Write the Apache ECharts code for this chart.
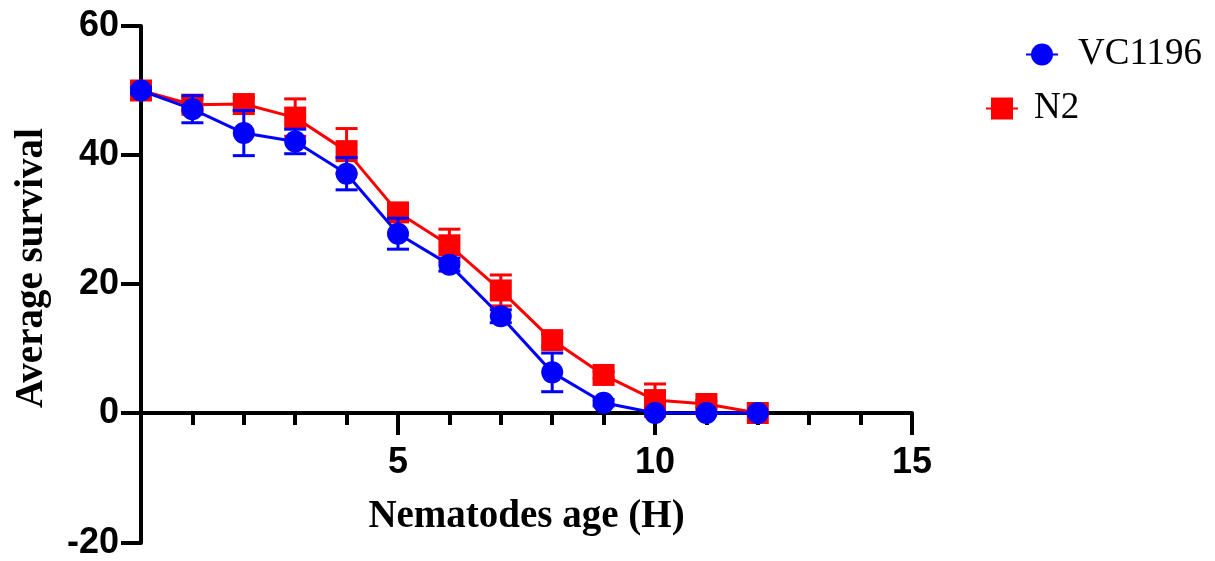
<!DOCTYPE html>
<html>
<head>
<meta charset="utf-8">
<script src="https://cdn.jsdelivr.net/npm/echarts@6/dist/echarts.min.js"></script>
<style>
  html, body { margin: 0; padding: 0; background: #fff; }
  #chart { width: 1215px; height: 561px; }
</style>
</head>
<body>
<div id="chart"></div>
<script>
// ---- data ----
const hours = [0, 1, 2, 3, 4, 5, 6, 7, 8, 9, 10, 11, 12];
const vc1196Mean = [50.0, 47.1, 43.4, 42.1, 37.1, 27.8, 23.0, 15.0, 6.3, 1.6, 0.0, 0.0, 0.0];
const vc1196Err  = [0.5, 2.1, 3.5, 1.9, 2.5, 2.4, 1.0, 1.0, 3.0, 0.5, 0.0, 0.0, 0.0];
const n2Mean     = [50.0, 47.8, 47.9, 45.8, 40.6, 31.1, 26.0, 19.0, 11.3, 5.9, 2.0, 1.4, 0.0];
const n2Err      = [0.5, 1.0, 1.0, 2.9, 3.5, 0.8, 2.5, 2.4, 1.0, 0.5, 2.5, 0.5, 0.0];
const seriesNames = ['VC1196', 'N2'];
const xTitle = 'Nematodes age (H)';
const yTitle = 'Average survival';

const BLUE = '#0000FF';
const RED = '#FF0000';

function errData(mean, err) {
  return hours.map((h, i) => [h, mean[i] - err[i], mean[i] + err[i]]);
}
function errRenderer(color) {
  return function (params, api) {
    const x = api.value(0), lo = api.value(1), hi = api.value(2);
    if (hi - lo <= 0) return null;
    const top = api.coord([x, hi]);
    const bot = api.coord([x, lo]);
    const hw = 11;
    const st = { stroke: color, lineWidth: 3 };
    return {
      type: 'group',
      children: [
        { type: 'line', shape: { x1: top[0], y1: top[1], x2: bot[0], y2: bot[1] }, style: st },
        { type: 'line', shape: { x1: top[0] - hw, y1: top[1], x2: top[0] + hw, y2: top[1] }, style: st },
        { type: 'line', shape: { x1: bot[0] - hw, y1: bot[1], x2: bot[0] + hw, y2: bot[1] }, style: st }
      ]
    };
  };
}

const chart = echarts.init(document.getElementById('chart'), null, { renderer: 'canvas' });
const legendText = { fontFamily: 'Liberation Serif', fontSize: 37, color: '#000' };
const axisLineStyle = { color: '#000', width: 4 };
const tickFont = { fontFamily: 'Liberation Sans', fontWeight: 'bold', fontSize: 36, color: '#000' };

chart.setOption({
  animation: false,
  backgroundColor: '#fff',
  grid: [
    // upper grid: y from 0 to 60 (x axis sits at y = 0)
    { left: 141, right: 303, top: 26, height: 387, containLabel: false, outerBoundsMode: 'none' },
    // lower grid: continuation of the y axis from 0 down to -20
    { left: 141, right: 303, top: 413, bottom: 18, containLabel: false, outerBoundsMode: 'none' }
  ],
  legend: [
    {
      data: [seriesNames[0]], left: 1025, top: 36, orient: 'vertical', padding: 0,
      itemWidth: 32, itemHeight: 27.5, selectedMode: false,
      textStyle: Object.assign({ padding: [0, 0, 0, 15] }, legendText)
    },
    {
      data: [seriesNames[1]], left: 985, top: 90, orient: 'vertical', padding: 0,
      itemWidth: 32, itemHeight: 27.5, selectedMode: false,
      textStyle: Object.assign({ padding: [0, 0, 0, 11] }, legendText)
    }
  ],
  xAxis: [
    {
      gridIndex: 0, type: 'value', min: 0, max: 15, interval: 5, position: 'bottom',
      name: xTitle, nameLocation: 'middle', nameGap: 84,
      nameTextStyle: { fontFamily: 'Liberation Serif', fontWeight: 'bold', fontSize: 39, color: '#000' },
      axisLine: { onZero: false, lineStyle: axisLineStyle },
      axisTick: { show: true, length: 22, lineStyle: axisLineStyle },
      minorTick: { show: true, splitNumber: 5, length: 12, lineStyle: axisLineStyle },
      axisLabel: Object.assign({ margin: 32, formatter: v => (v === 0 ? '' : String(v)) }, tickFont),
      splitLine: { show: false }
    },
    {
      gridIndex: 1, type: 'value', min: 0, max: 15, show: false
    }
  ],
  yAxis: [
    {
      gridIndex: 0, type: 'value', min: 0, max: 60, interval: 20,
      name: yTitle, nameLocation: 'middle', nameGap: 90, nameRotate: 90,
      nameTextStyle: { fontFamily: 'Liberation Serif', fontWeight: 'bold', fontSize: 39, color: '#000', padding: [0, 97, 0, 0] },
      axisLine: { show: true, onZero: false, lineStyle: axisLineStyle },
      axisTick: { show: true, length: 20, lineStyle: axisLineStyle },
      axisLabel: Object.assign({ margin: 22 }, tickFont),
      splitLine: { show: false }
    },
    {
      gridIndex: 1, type: 'value', min: -20, max: 0, interval: 20,
      axisLine: { show: true, onZero: false, lineStyle: axisLineStyle },
      axisTick: { show: true, length: 20, lineStyle: axisLineStyle },
      axisLabel: Object.assign({ margin: 22, formatter: v => (v === 0 ? '' : String(v)) }, tickFont),
      splitLine: { show: false }
    }
  ],
  series: [
    {
      name: 'N2 error', type: 'custom', z: 2, clip: false, xAxisIndex: 0, yAxisIndex: 0,
      renderItem: errRenderer(RED), encode: { x: 0, y: [1, 2] },
      data: errData(n2Mean, n2Err)
    },
    {
      name: seriesNames[1], type: 'line', z: 3, clip: false, xAxisIndex: 0, yAxisIndex: 0,
      data: hours.map((h, i) => [h, n2Mean[i]]),
      symbol: 'rect', symbolSize: 22,
      itemStyle: { color: RED },
      lineStyle: { color: RED, width: 3 }
    },
    {
      name: 'VC1196 error', type: 'custom', z: 4, clip: false, xAxisIndex: 0, yAxisIndex: 0,
      renderItem: errRenderer(BLUE), encode: { x: 0, y: [1, 2] },
      data: errData(vc1196Mean, vc1196Err)
    },
    {
      name: seriesNames[0], type: 'line', z: 5, clip: false, xAxisIndex: 0, yAxisIndex: 0,
      data: hours.map((h, i) => [h, vc1196Mean[i]]),
      symbol: 'circle', symbolSize: 22,
      itemStyle: { color: BLUE },
      lineStyle: { color: BLUE, width: 3 }
    }
  ]
});
</script>
</body>
</html>
